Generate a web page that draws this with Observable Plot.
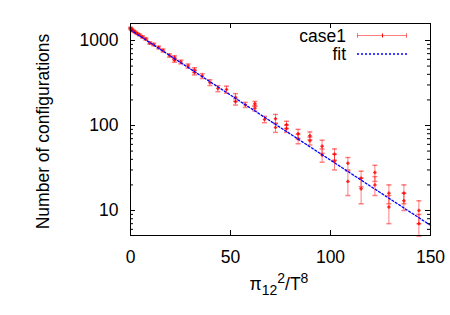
<!DOCTYPE html>
<html><head><meta charset="utf-8">
<script src="https://cdn.jsdelivr.net/npm/d3@7"></script>
<script src="https://cdn.jsdelivr.net/npm/@observablehq/plot@0.6"></script>
<style>body{margin:0;background:#fff}</style>
</head><body><div id="chart"></div>
<script>
// case1 data (x = pi12^2/T^8, number of configurations, error)
const caseX = [0.05, 0.3, 0.75, 1.4, 2.25, 3.3, 4.6, 6.05, 7.7, 9.6, 11.6, 14.1, 16.3, 19.5, 22, 22, 25.2, 28.8, 32, 32, 35.9, 39.7, 43.7, 48, 52.5, 52.5, 57.4, 62.2, 62.2, 67, 72.5, 72.5, 78, 78, 83.8, 83.8, 89.7, 89.7, 95.8, 95.8, 102, 102, 108.7, 108.7, 115.3, 115.3, 122.2, 122.2, 129.2, 129.2, 136.7, 136.7, 144.2, 144.2];
const caseY = [1400, 1365, 1330, 1295, 1260, 1210, 1160, 1100, 1040, 935, 897, 827, 763, 667, 630, 585, 559, 501, 450, 420, 382, 320, 272, 265, 215, 190, 175, 180, 160, 118, 120, 95, 102, 92, 80, 70, 76, 66, 57, 45, 46, 38, 36, 22, 24, 18, 28, 20, 16, 11, 16, 13, 10, 7];
const caseErr = [30, 30, 30, 30, 30, 30, 30, 30, 30, 30, 30, 30, 30, 30, 30, 30, 28, 28, 28, 26, 25, 25, 22, 25, 22, 16, 12, 12, 12, 10, 15, 12, 10, 9, 10, 9, 8, 7, 10, 8, 7, 8, 6, 7, 5, 6, 6, 5, 4, 4, 4, 3, 3, 2];
// fit line endpoints
const fitX = [0, 150];
const fitY = [1330, 6.7];
// ticks and labels
const xTicks = [0, 50, 100, 150];
const yTicks = [10, 100, 1000];
const yMinorTicks = [6, 7, 8, 9, 20, 30, 40, 50, 60, 70, 80, 90, 200, 300, 400, 500, 600, 700, 800, 900];
const seriesNames = ["case1", "fit"];
const yLabel = "Number of configurations";

const points = caseX.map((x, i) => ({x, y: caseY[i], err: caseErr[i]}));
const fit = fitX.map((x, i) => ({x, y: fitY[i]}));

const capSymbol = {draw(ctx, size) { const r = Math.sqrt(size / Math.PI); ctx.moveTo(-r, 0); ctx.lineTo(r, 0); }};
const plusSymbol = {draw(ctx, size) { const r = Math.sqrt(size / Math.PI); ctx.moveTo(-r, 0); ctx.lineTo(r, 0); ctx.moveTo(0, -r); ctx.lineTo(0, r); }};

const FONT = "'Liberation Sans', Arial, sans-serif";
const plot = Plot.plot({
  width: 450, height: 315,
  marginLeft: 130, marginRight: 20, marginTop: 23, marginBottom: 80,
  style: {fontFamily: FONT, fontSize: "17.5px", background: "white", color: "black"},
  x: {domain: [0, 150]},
  y: {type: "log", domain: [5.08, 1585]},
  marks: [
    Plot.ruleX(points, {x: "x", y1: d => d.y - d.err, y2: d => d.y + d.err, stroke: "red", strokeOpacity: 0.5}),
    Plot.dot(points, {x: "x", y: d => d.y - d.err, symbol: capSymbol, r: 2.5, stroke: "red", strokeOpacity: 0.5, fill: "none"}),
    Plot.dot(points, {x: "x", y: d => d.y + d.err, symbol: capSymbol, r: 2.5, stroke: "red", strokeOpacity: 0.5, fill: "none"}),
    Plot.dot(points, {x: "x", y: "y", symbol: plusSymbol, r: 1.7, stroke: "red", strokeOpacity: 0.85, fill: "none"}),
    Plot.line(fit, {x: "x", y: "y", stroke: "blue", strokeWidth: 1.3, strokeDasharray: "2,2"}),
    Plot.frame({stroke: "black"}),
    Plot.tickX(xTicks, {x: d => d, insetTop: 207, stroke: "black"}),
    Plot.tickX(xTicks, {x: d => d, insetBottom: 207, stroke: "black"}),
    Plot.tickY(yTicks, {y: d => d, insetRight: 295, stroke: "black"}),
    Plot.tickY(yTicks, {y: d => d, insetLeft: 295, stroke: "black"}),
    Plot.tickY(yMinorTicks, {y: d => d, insetRight: 297, stroke: "black"}),
    Plot.tickY(yMinorTicks, {y: d => d, insetLeft: 297, stroke: "black"}),
    Plot.axisX({ticks: xTicks, tickSize: 0, tickPadding: 15, label: null}),
    Plot.axisY({ticks: yTicks, tickFormat: d3.format("d"), tickSize: 0, tickPadding: 12, label: null}),
    Plot.text([yLabel], {frameAnchor: "left", text: d => d, textAnchor: "middle", lineAnchor: "middle", rotate: -90, dx: -87, dy: 2, fontSize: 17.5})
  ]
});
document.getElementById("chart").appendChild(plot);

const svg = d3.select(plot);
// x-axis label with sub/superscripts
const xl = svg.append("text").attr("x", 279).attr("y", 290).attr("text-anchor", "middle")
  .attr("font-family", FONT).attr("font-size", 17.5).attr("fill", "black");
xl.append("tspan").text("π");
xl.append("tspan").attr("font-size", 14).attr("dy", 5).text("12");
xl.append("tspan").attr("font-size", 14).attr("dy", -12).text("2");
xl.append("tspan").attr("dy", 7).text("/T");
xl.append("tspan").attr("font-size", 14).attr("dy", -7).text("8");

// legend
const lg = svg.append("g").attr("font-family", FONT).attr("font-size", 17.5).attr("fill", "black");
lg.append("text").attr("x", 346).attr("y", 41.5).attr("text-anchor", "end").text(seriesNames[0]);
lg.append("text").attr("x", 346).attr("y", 59.5).attr("text-anchor", "end").text(seriesNames[1]);
const s1 = lg.append("g").attr("stroke", "red").attr("fill", "none");
s1.append("line").attr("x1", 357).attr("x2", 407).attr("y1", 35.5).attr("y2", 35.5).attr("stroke-opacity", 0.5);
s1.append("line").attr("x1", 357.5).attr("x2", 357.5).attr("y1", 33).attr("y2", 38).attr("stroke-opacity", 0.5);
s1.append("line").attr("x1", 406.5).attr("x2", 406.5).attr("y1", 33).attr("y2", 38).attr("stroke-opacity", 0.5);
s1.append("line").attr("x1", 382.5).attr("x2", 382.5).attr("y1", 33.5).attr("y2", 37.5);
lg.append("line").attr("x1", 357).attr("x2", 407).attr("y1", 54).attr("y2", 54)
  .attr("stroke", "blue").attr("stroke-width", 1.3).attr("stroke-dasharray", "2,2");
</script>
</body></html>
